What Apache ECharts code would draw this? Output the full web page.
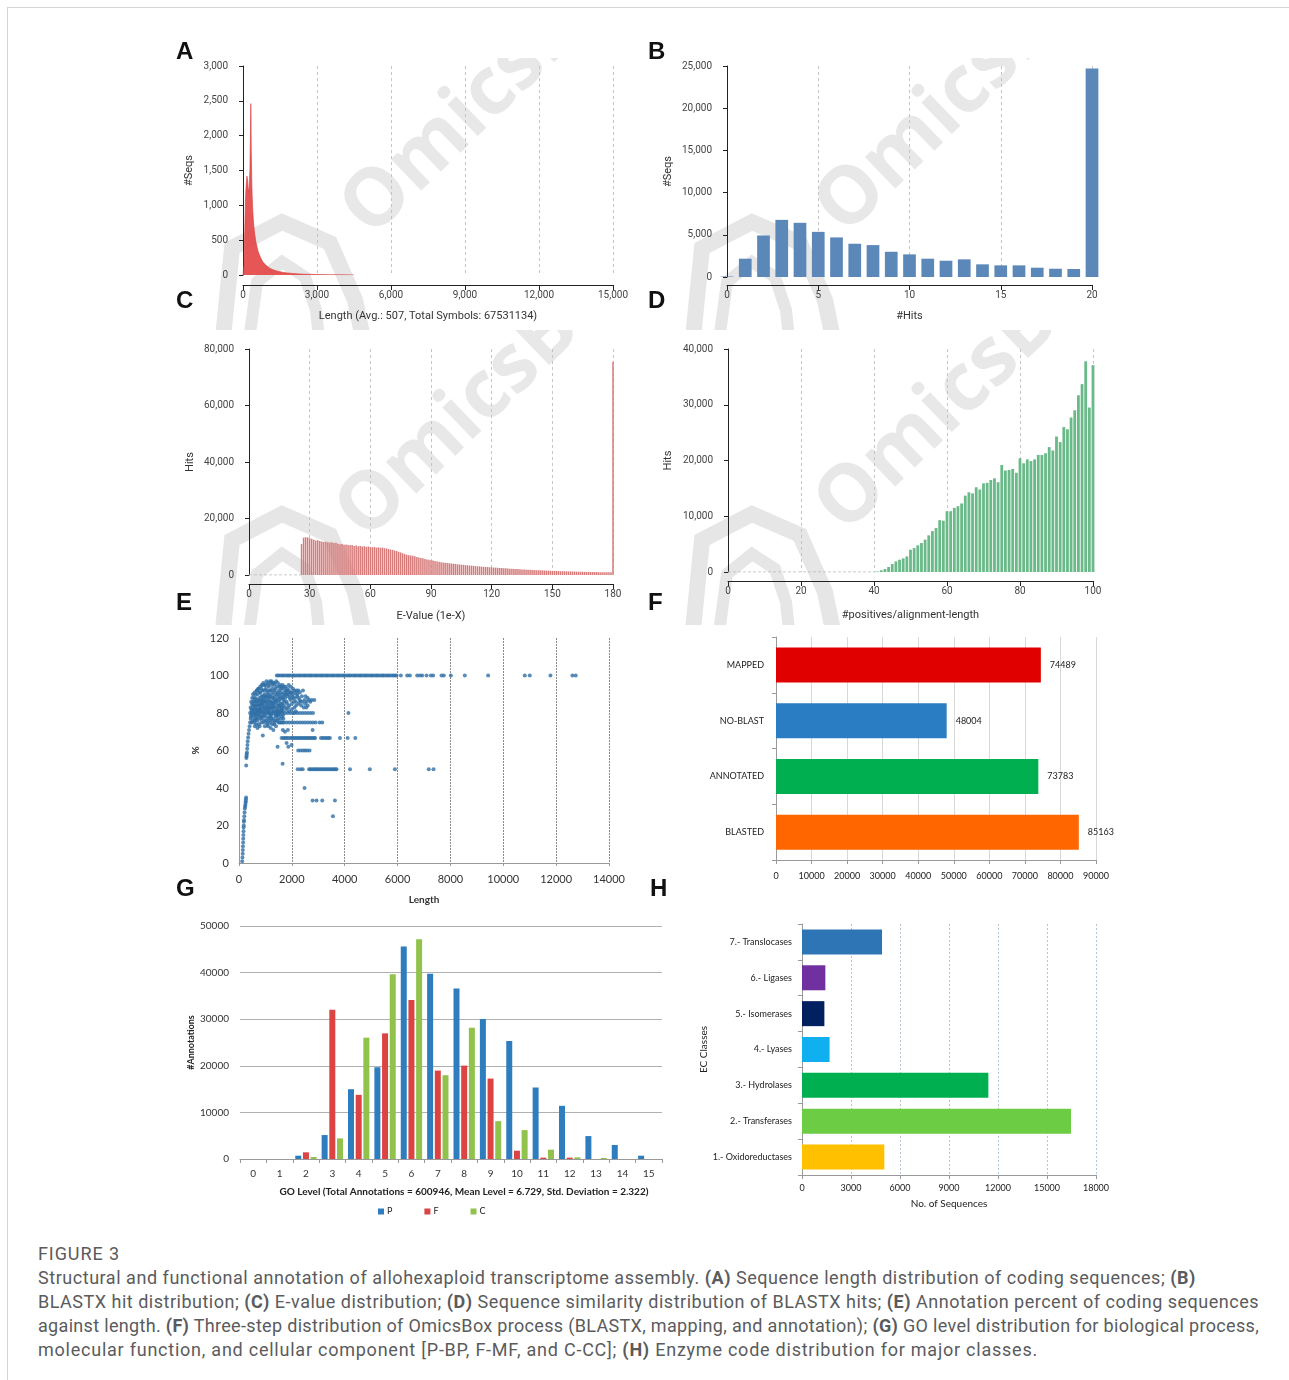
<!DOCTYPE html>
<html><head><meta charset="utf-8">
<script src="https://cdn.jsdelivr.net/npm/echarts@6/dist/echarts.min.js"></script>
<style>
body{margin:0;background:#fff;width:1289px;height:1380px;overflow:hidden;position:relative;}
#frame{position:absolute;left:7px;top:7px;width:1300px;height:1400px;border-left:1px solid #d4d4d4;border-top:1px solid #d4d4d4;}
.wmp{position:absolute;overflow:hidden;}
.wmp svg{position:absolute;left:0;top:0;}
#chart{position:absolute;left:0;top:0;width:1289px;height:1230px;}
#cap{position:absolute;left:38px;top:1242px;font-family:Roboto,'Noto Sans',sans-serif;color:#5a5b5d;font-size:18px;line-height:24px;white-space:nowrap;}
#cap div{display:block;}
#cap span.l{display:inline-block;}
</style></head>
<body>
<div id="frame"></div>
<div class="wmp" style="left:170px;top:58px;width:470px;height:272px;"><svg width="470" height="272"><g fill="none" stroke="#e6e6e6"><polyline stroke-width="16" points="52,290 62,190 112,164 160,185 185,242 195,290"/><polyline stroke-width="12" points="78,290 87,224 112,204 135,219 146,252 150,290"/></g><text x="201" y="181" transform="rotate(-44 201 181)" font-family="Open Sans" font-weight="bold" font-size="80" fill="#e8e8e8">OmicsBox</text></svg></div>
<div class="wmp" style="left:640px;top:58px;width:470px;height:272px;"><svg width="470" height="272"><g fill="none" stroke="#e6e6e6"><polyline stroke-width="16" points="52,290 62,190 112,164 160,185 185,242 195,290"/><polyline stroke-width="12" points="78,290 87,224 112,204 135,219 146,252 150,290"/></g><text x="205" y="179" transform="rotate(-44 205 179)" font-family="Open Sans" font-weight="bold" font-size="80" fill="#e8e8e8">OmicsBox</text></svg></div>
<div class="wmp" style="left:170px;top:330px;width:470px;height:295px;"><svg width="470" height="295"><g fill="none" stroke="#e6e6e6" transform="translate(0,20)"><polyline stroke-width="16" points="52,290 62,190 112,164 160,185 185,242 195,290"/><polyline stroke-width="12" points="78,290 87,224 112,204 135,219 146,252 150,290"/></g><text x="196" y="212" transform="rotate(-44 196 212)" font-family="Open Sans" font-weight="bold" font-size="80" fill="#e8e8e8">OmicsBox</text></svg></div>
<div class="wmp" style="left:640px;top:330px;width:470px;height:295px;"><svg width="470" height="295"><g fill="none" stroke="#e6e6e6" transform="translate(0,20)"><polyline stroke-width="16" points="52,290 62,190 112,164 160,185 185,242 195,290"/><polyline stroke-width="12" points="78,290 87,224 112,204 135,219 146,252 150,290"/></g><text x="205" y="205" transform="rotate(-44 205 205)" font-family="Open Sans" font-weight="bold" font-size="80" fill="#e8e8e8">OmicsBox</text></svg></div>
<div id="chart"></div>
<div id="cap">
<div><span class="l" data-w="82">FIGURE 3</span></div>
<div><span class="l" data-w="1158">Structural and functional annotation of allohexaploid transcriptome assembly. <b>(A)</b> Sequence length distribution of coding sequences; <b>(B)</b></span></div>
<div><span class="l" data-w="1221">BLASTX hit distribution; <b>(C)</b> E-value distribution; <b>(D)</b> Sequence similarity distribution of BLASTX hits; <b>(E)</b> Annotation percent of coding sequences</span></div>
<div><span class="l" data-w="1221">against length. <b>(F)</b> Three-step distribution of OmicsBox process (BLASTX, mapping, and annotation); <b>(G)</b> GO level distribution for biological process,</span></div>
<div><span class="l" data-w="1000">molecular function, and cellular component [P-BP, F-MF, and C-CC]; <b>(H)</b> Enzyme code distribution for major classes.</span></div>
</div>
<script>
// ---------- DATA ----------
// (A) sequence length histogram (length, #seqs)
const lenX = [0,40,70,100,130,160,190,220,250,280,300,315,325,335,350,370,400,430,470,520,570,620,700,800,900,1000,1100,1250,1400,1600,1800,2000,2300,2600,3000,3500,4000,4500];
const lenSeqs = [0,150,600,1100,1300,1420,1350,1200,1250,1500,2000,2460,2300,1800,1450,1150,900,740,600,480,400,330,260,190,150,120,95,70,55,40,30,22,15,10,7,4,3,1];
// (B) BLASTX hits distribution
const hitsX = [0,1,2,3,4,5,6,7,8,9,10,11,12,13,14,15,16,17,18,19,20];
const hitsSeqs = [60,2170,4920,6770,6420,5350,4690,3940,3780,2990,2680,2170,1930,2090,1500,1380,1380,1100,980,950,24690];
// (C) E-value distribution, first bin = 26
const eValStart = 26;
const eValHits = [11000,13200,13400,13300,13000,12800,12500,12200,12300,12000,11900,11700,11800,11600,11500,11600,11300,11400,11100,10900,11000,10700,10800,10600,10500,10600,10300,10400,10200,10300,10100,10200,10000,10100,9900,9800,9900,9700,9800,9600,9700,9500,9400,9200,9000,8900,8700,8500,8200,8000,7700,7400,7200,7000,6900,6800,6600,6400,6200,6000,5900,5700,5500,5400,5200,5100,4950,4800,4700,4550,4450,4350,4250,4150,4050,3950,3900,3800,3750,3650,3600,3500,3450,3350,3300,3250,3150,3100,3050,2950,2900,2850,2800,2750,2700,2650,2600,2550,2500,2450,2400,2350,2300,2250,2200,2150,2100,2080,2030,1990,1950,1900,1870,1830,1800,1760,1720,1690,1650,1620,1590,1560,1530,1500,1470,1440,1410,1390,1360,1340,1310,1290,1270,1250,1230,1210,1190,1170,1150,1130,1110,1100,1080,1060,1050,1030,1020,1000,990,970,960,950,940,930,75500];
// (D) similarity distribution, first bin = 41
const simStart = 41;
const simHits = [100,300,540,900,1430,1900,2200,2450,2800,4000,4300,4780,5200,5800,6570,7340,7880,9300,9200,10900,10900,11500,11800,12300,13700,14300,14100,15200,14800,15900,16000,16500,16800,16100,19200,18200,18300,18500,17800,20400,19500,20200,19900,20200,21000,21000,21300,22400,21800,24300,23300,26000,25600,27700,29000,31700,33700,37800,29500,37100];
// empty leading range drawn as the dashed zero line in (C) and (D)
const eValEmpty = [[0,0],[26,0]];
const simEmpty = [[0,0],[41,0]];
// (E) annotation percent vs length
const risePts = [[120,1],[130,3],[140,5],[145,7],[150,9],[155,11],[160,13],[165,15],[170,17],[175,19],[180,20],[185,22],[190,23],[200,25],[210,27],[220,29],[230,30],[240,31],[250,32],[255,33],[262,34],[268,35],[272,52],[280,56],[285,57],[290,58],[300,59],[310,61],[320,63],[330,65],[345,67],[360,69],[380,71],[400,73],[420,75],[440,77],[460,79]];
const clusterPts = [[500,80],[520,84],[540,78],[560,82],[580,86],[600,79],[610,83],[630,88],[650,81],[660,77],[680,85],[700,90],[710,82],[730,79],[750,87],[760,84],[780,91],[800,80],[810,86],[830,83],[850,89],[860,78],[880,92],[900,85],[910,81],[930,88],[950,83],[960,90],[980,79],[1000,86],[1010,93],[1030,82],[1050,88],[1060,84],[1080,91],[1100,80],[1110,87],[1130,94],[1150,85],[1160,82],[1180,89],[1200,92],[1210,86],[1230,80],[1250,95],[1260,88],[1280,83],[1300,91],[1310,86],[1330,96],[1350,81],[1360,89],[1380,93],[1400,85],[1420,87],[1440,94],[1460,82],[1480,90],[1500,86],[1520,92],[1540,84],[1560,95],[1580,88],[1600,81],[1620,90],[1640,85],[1660,93],[1680,87],[1700,91],
[520,76],[570,75],[620,77],[690,76],[740,74],[790,77],[840,75],[900,78],[950,76],[1000,78],[1050,75],[1100,77],[1150,76],[1200,78],[1250,74],[1300,77],[1350,75],[1400,78],[1450,76],
[560,88],[620,90],[680,92],[740,93],[800,94],[860,95],[920,96],[980,95],[1040,97],[1100,96],[1170,97],[1230,97],[1290,96],[1350,95],[1410,97],[1470,96],[1530,94],[1590,93],[1650,95],[1710,94],[1770,92],[1830,93],[1890,92],[1950,91],
[1750,88],[1800,86],[1850,89],[1900,84],[1950,87],[2000,85],[2050,88],[2100,83],[2150,86],[2200,89],[2250,85],[2300,87],[2350,84],[2400,86],[2450,83],[2500,85],[2550,83],[2600,84],[2650,87],[2750,87],[2850,87],
[1750,80],[1800,82],[1850,80],[1900,81],[1950,80],[2000,82],[2050,80],[2100,80],[2150,81],[2200,80],[2300,80],[2400,80],[2500,80],[2600,80],[2700,80],[2800,80],[4140,80],
[1750,90],[1800,92],[1850,91],[1900,90],[2000,91],[2050,90],[2100,92],[2150,91],[2200,90],[2250,92],[2300,91],
[1500,75],[1550,75],[1600,75],[1650,75],[1700,75],[1800,75],[1900,75],[2000,75],[2100,75],[2200,75],[2300,75],[2400,75],[2500,75],[2600,75],[2700,75],[2800,75],[2900,75],[3050,75],[3150,75],
[700,72],[900,68],[1100,73],[1200,72],[1300,71],[1400,73],[600,73],[450,78],[470,82],[480,75],[490,85],
[1660,71],[1740,70],[1850,71],[2785,71],[1460,62],[1800,64],[1865,62],[1990,63],[1650,53],[2480,40],[3555,25],
[420,80],[440,83],[460,86],[480,81],[500,88],[530,90],[550,86],[570,80],[590,91],[620,84],[640,79],[660,87],[670,92],[690,80],[720,86],[730,93],[750,81],[770,88],[790,84],[800,91],[820,79],[840,87],[850,93],[870,82],[890,89],[900,95],[920,84],[940,80],[950,92],[970,87],[990,83],[1000,95],[1020,89],[1040,80],[1060,92],[1070,86],[1090,83],[1110,95],[1120,90],[1140,80],[1160,88],[1170,92],[1190,84],[1210,96],[1220,79],[1240,90],[1260,85],[1270,93],[1290,80],[1300,88],[1320,84],[1340,92],[1370,87],[1390,80],[1410,90],[1430,83],[1450,91],[1470,88],[1490,79],[1510,84],[1530,89],[1550,80],[1570,91],[1590,85],[1610,94],[1630,82],[1650,88],[1670,79],[1690,84],[1720,86],[1740,83],[1760,94],[1790,90],[1820,85],[1860,83],[1880,95],[1920,88],[1960,94],[2000,89],[2040,93],[2080,86],[2120,88],[2160,84],[2180,92],[2260,88],[2320,86],[2380,89],[2420,92],[2480,87],[2520,89],[2560,86],[2600,88],[2700,86],
[600,76],[650,74],[720,78],[780,73],[850,77],[920,75],[980,73],[1030,76],[1080,74],[1130,78],[1180,75],[1220,77],[1280,76],[1330,74],[1380,76],[1430,79],[1480,77],[1530,79],[1580,77],[1630,78],[1680,77],
[540,82],[580,84],[640,86],[700,84],[760,82],[820,85],[880,87],[940,86],[990,89],[1040,85],[1090,89],[1140,83],[1190,86],[1240,83],[1290,85],[1340,83],[1390,86],[1440,81],[1490,84],[1540,87],[1590,83],[1640,80],[1690,89],
[620,80],[670,82],[730,81],[790,82],[840,81],[870,85],[930,80],[990,81],[1050,82],[1120,81],[1170,80],[1240,82],[1310,81],[1370,79],[1420,81],[1470,80],[1520,81],[1570,82],[1620,83],[1670,81]];
const row667 = [1610,1680,1740,1800,1860,1940,2000,2060,2120,2180,2240,2300,2360,2420,2480,2540,2600,2660,2720,2780,2840,2880,3100,3170,3240,3310,3380,3440,3820,4110,4400];
const row60 = [2240,2330,2420,2500,2580,2670];
const row50 = [2220,2330,2410,2650,2700,2760,2820,2880,2930,2990,3050,3110,3170,3230,3290,3350,3410,3470,3530,3590,3650,3690,4200,4950,5900,7180,7360];
const row33 = [2785,2935,3150,3630];
const full100 = [1430,1490,1560,1640,1700,1780,1850,1910,1990,2060,2120,2200,2270,2330,2410,2480,2540,2620,2690,2750,2830,2900,2960,3040,3110,3170,3250,3320,3380,3460,3530,3590,3670,3740,3800,3880,3950,4010,4090,4160,4220,4300,4370,4430,4510,4580,4640,4720,4790,4850,4930,5000,5060,5140,5210,5270,5350,5420,5480,5560,5630,5690,5770,5840,5900,5960,6125,6364,6465,6742,6843,6931,7096,7259,7347,7662,7750,8015,8544,9426,10813,11002,11784,12616,12741];
// (F) OmicsBox process steps
const stepCats = ['BLASTED','ANNOTATED','NO-BLAST','MAPPED'];
const stepValues = [85163,73783,48004,74489];
const stepColors = ['#ff6600','#00b050','#2a7dc2','#e00000'];
// (G) GO level distribution
const goLevels = ['0','1','2','3','4','5','6','7','8','9','10','11','12','13','14','15'];
const goP = [0,0,710,5140,14980,19690,45580,39730,36590,30030,25320,15340,11410,4920,3000,710];
const goF = [0,0,1430,32030,13770,26960,34100,18970,20040,17260,1780,290,290,0,0,0];
const goC = [0,0,430,4420,26040,39660,47150,17980,28180,8130,6200,2000,360,210,0,0];
// (H) EC classes
const ecCats = ['1.- Oxidoreductases','2.- Transferases','3.- Hydrolases','4.- Lyases','5.- Isomerases','6.- Ligases','7.- Translocases'];
const ecValues = [5040,16470,11410,1690,1370,1430,4900];
const ecColors = ['#ffc000','#6ccd44','#00b050','#10b0f0','#002060','#7030a0','#2e75b6'];

// ---------- CHART ----------
const chart = echarts.init(document.getElementById('chart'), null, {renderer:'canvas'});
const RB = 'Roboto', LT = 'Lato';
const plain = v => String(v);
function d3x(gi, max, interval, name, nameGap, offset){
  return {type:'value', gridIndex:gi, min:0, max:max, interval:interval, offset:offset,
    axisLine:{show:true, onZero:false, lineStyle:{color:'#222', width:1}},
    axisTick:{show:true, length:5, lineStyle:{color:'#222'}},
    axisLabel:{fontSize:10, color:'#444', fontFamily:RB, margin:5},
    splitLine:{show:true, lineStyle:{color:'#c4c4c4', type:[3,3]}},
    name:name, nameLocation:'middle', nameGap:nameGap,
    nameTextStyle:{fontSize:11, color:'#333', fontFamily:RB}};
}
function d3y(gi, max, interval, name, nameGap, offset){
  return {type:'value', gridIndex:gi, min:0, max:max, interval:interval, offset:offset,
    axisLine:{show:true, lineStyle:{color:'#222', width:1}},
    axisTick:{show:true, length:4, lineStyle:{color:'#222'}},
    axisLabel:{fontSize:10, color:'#444', fontFamily:RB, margin:7},
    splitLine:{show:false},
    name:name, nameLocation:'middle', nameGap:nameGap, nameRotate:90,
    nameTextStyle:{fontSize:11, color:'#333', fontFamily:RB}};
}
const grids = [
  {left:243, top:66, width:370, height:209},
  {left:727, top:66, width:365, height:211},
  {left:249, top:349, width:364, height:226},
  {left:728, top:349, width:365, height:223},
  {left:239, top:638, width:370, height:225},
  {left:776, top:637, width:320, height:223},
  {left:240, top:926, width:422, height:233},
  {left:802, top:924, width:294, height:251}
];
const xAxes = [
  d3x(0, 15000, 3000, 'Length (Avg.: 507, Total Symbols: 67531134)', 26, 10),
  d3x(1, 20, 5, '#Hits', 26, 8),
  d3x(2, 180, 30, 'E-Value (1e-X)', 27, 9),
  d3x(3, 100, 20, '#positives/alignment-length', 29, 9),
  {type:'value', gridIndex:4, min:0, max:14000, interval:2000,
   axisLine:{lineStyle:{color:'#999'}}, axisTick:{show:true, length:3, lineStyle:{color:'#999'}},
   axisLabel:{fontSize:11, color:'#333', fontFamily:LT, margin:11, formatter:plain},
   splitLine:{show:true, lineStyle:{color:'#8a8a8a', type:[2,1], width:1}},
   name:'Length', nameLocation:'middle', nameGap:32, nameTextStyle:{fontSize:10, fontWeight:'bold', color:'#333', fontFamily:LT}},
  {type:'value', gridIndex:5, min:0, max:90000, interval:10000,
   axisLine:{show:true, lineStyle:{color:'#999'}}, axisTick:{show:true, length:4, lineStyle:{color:'#999'}},
   axisLabel:{fontSize:9, color:'#222', fontFamily:LT, margin:12, formatter:plain},
   splitLine:{show:true, lineStyle:{color:'#d8d8d8'}}},
  {type:'category', gridIndex:6, data:goLevels,
   axisLine:{lineStyle:{color:'#999'}}, axisTick:{show:true, length:4, lineStyle:{color:'#999'}},
   axisLabel:{fontSize:10, color:'#333', fontFamily:LT, margin:10}},
  {type:'value', gridIndex:7, min:0, max:18000, interval:3000,
   axisLine:{show:true, lineStyle:{color:'#999'}}, axisTick:{show:true, length:4, lineStyle:{color:'#999'}},
   axisLabel:{fontSize:9, color:'#222', fontFamily:LT, margin:9, formatter:plain},
   splitLine:{show:true, lineStyle:{color:'#b4c4d6', type:[2,2]}},
   name:'No. of Sequences', nameLocation:'middle', nameGap:24, nameTextStyle:{fontSize:10, color:'#222', fontFamily:LT}}
];
const yAxes = [
  d3y(0, 3000, 500, '#Seqs', 40, 8),
  d3y(1, 25000, 5000, '#Seqs', 45, 8),
  d3y(2, 80000, 20000, 'Hits', 45, 8),
  d3y(3, 40000, 10000, 'Hits', 46, 8),
  {type:'value', gridIndex:4, min:0, max:120, interval:20,
   axisLine:{show:true, lineStyle:{color:'#999'}}, axisTick:{show:false},
   axisLabel:{fontSize:11, color:'#333', fontFamily:LT, margin:10, formatter:plain},
   splitLine:{show:false},
   name:'%', nameLocation:'middle', nameGap:38, nameRotate:90, nameTextStyle:{fontSize:10, fontWeight:'bold', color:'#333', fontFamily:LT}},
  {type:'category', gridIndex:5, data:stepCats,
   axisLine:{show:true, lineStyle:{color:'#999'}}, axisTick:{show:true, length:4, lineStyle:{color:'#999'}},
   axisLabel:{fontSize:9, color:'#222', fontFamily:LT, margin:12}},
  {type:'value', gridIndex:6, min:0, max:50000, interval:10000,
   axisLine:{show:false}, axisTick:{show:false},
   axisLabel:{fontSize:10, color:'#333', fontFamily:LT, margin:11, formatter:plain},
   splitLine:{show:true, lineStyle:{color:'#b0b0b0'}},
   name:'#Annotations', nameLocation:'middle', nameGap:44, nameRotate:90, nameTextStyle:{fontSize:9, fontWeight:'bold', color:'#222', fontFamily:LT}},
  {type:'category', gridIndex:7, data:ecCats,
   axisLine:{show:true, lineStyle:{color:'#999'}}, axisTick:{show:true, length:4, lineStyle:{color:'#999'}},
   axisLabel:{fontSize:9, color:'#222', fontFamily:LT, margin:10},
   name:'EC Classes', nameLocation:'middle', nameGap:92, nameRotate:90, nameTextStyle:{fontSize:10, color:'#222', fontFamily:LT}}
];

const scatterData = [].concat(
  risePts, clusterPts,
  row667.map(v=>[v,66.7]), row60.map(v=>[v,60]), row50.map(v=>[v,50]),
  row33.map(v=>[v,33.3]), full100.map(v=>[v,100])
);

const series = [
  {type:'line', xAxisIndex:0, yAxisIndex:0, data:lenX.map((x,i)=>[x,lenSeqs[i]]), showSymbol:false,
   lineStyle:{width:0.6, color:'#d93a3a'}, areaStyle:{color:'#e44848', opacity:0.92}, silent:true},
  {type:'bar', xAxisIndex:1, yAxisIndex:1, data:hitsX.map((x,i)=>[x,hitsSeqs[i]]), barWidth:12.7, clip:false,
   itemStyle:{color:'#5b88b8'}},
  {type:'line', xAxisIndex:2, yAxisIndex:2, data:eValEmpty, showSymbol:false, silent:true,
   lineStyle:{color:'#b8b8b8', width:1, type:[3,2]}},
  {type:'bar', xAxisIndex:2, yAxisIndex:2, data:eValHits.map((v,i)=>[eValStart+i,v]), barWidth:1.5, clip:false,
   itemStyle:{color:'#d67a7a'}},
  {type:'line', xAxisIndex:3, yAxisIndex:3, data:simEmpty, showSymbol:false, silent:true,
   lineStyle:{color:'#b8b8b8', width:1, type:[3,2]}},
  {type:'bar', xAxisIndex:3, yAxisIndex:3, data:simHits.map((v,i)=>[simStart+i,v]), barWidth:2.8, clip:false,
   itemStyle:{color:'#6aba89'}},
  {type:'scatter', xAxisIndex:4, yAxisIndex:4, data:scatterData, symbolSize:4, itemStyle:{color:'#2f6fa6'}},
  {type:'bar', xAxisIndex:5, yAxisIndex:5, barWidth:35,
   data:stepValues.map((v,i)=>({value:v, itemStyle:{color:stepColors[i]}})),
   label:{show:true, position:'right', distance:9, fontSize:9, color:'#222', fontFamily:LT}},
  {type:'bar', name:'P', xAxisIndex:6, yAxisIndex:6, data:goP, barWidth:6, barGap:'28%', itemStyle:{color:'#2e7dbf'}},
  {type:'bar', name:'F', xAxisIndex:6, yAxisIndex:6, data:goF, barWidth:6, barGap:'28%', itemStyle:{color:'#dc4343'}},
  {type:'bar', name:'C', xAxisIndex:6, yAxisIndex:6, data:goC, barWidth:6, barGap:'28%', itemStyle:{color:'#90c24c'}},
  {type:'bar', xAxisIndex:7, yAxisIndex:7, barWidth:25,
   data:ecValues.map((v,i)=>({value:v, itemStyle:{color:ecColors[i]}}))}
];

function letter(t, x, y){ return {type:'text', left:x, top:y, style:{text:t, font:'bold 24px "Liberation Sans", Arial', fill:'#111'}, z:100}; }

chart.setOption({
  animation:false,
  backgroundColor:'transparent',
  grid:grids, xAxis:xAxes, yAxis:yAxes, series:series,
  legend:{data:['P','F','C'], left:373, top:1202, itemWidth:6, itemHeight:6, itemGap:32, icon:'rect',
    textStyle:{fontSize:9, color:'#222', fontFamily:LT, padding:[0,0,0,-2]}},
  graphic:[
    letter('A',176,40), letter('B',648,40), letter('C',176,289), letter('D',648,289),
    letter('E',176,591), letter('F',648,591), letter('G',176,877), letter('H',650,877),
    {type:'text', x:464, y:1187, style:{text:'GO Level (Total Annotations = 600946, Mean Level = 6.729, Std. Deviation = 2.322)',
      font:'bold 10px Lato', fill:'#222', textAlign:'center'}}
  ]
});

// fit caption lines to the reference line widths
document.querySelectorAll('#cap span.l').forEach(function(s){
  const target = +s.dataset.w;
  const w = s.getBoundingClientRect().width;
  const n = s.textContent.length;
  s.style.letterSpacing = ((target - w) / n).toFixed(3) + 'px';
});
</script>
</body></html>
